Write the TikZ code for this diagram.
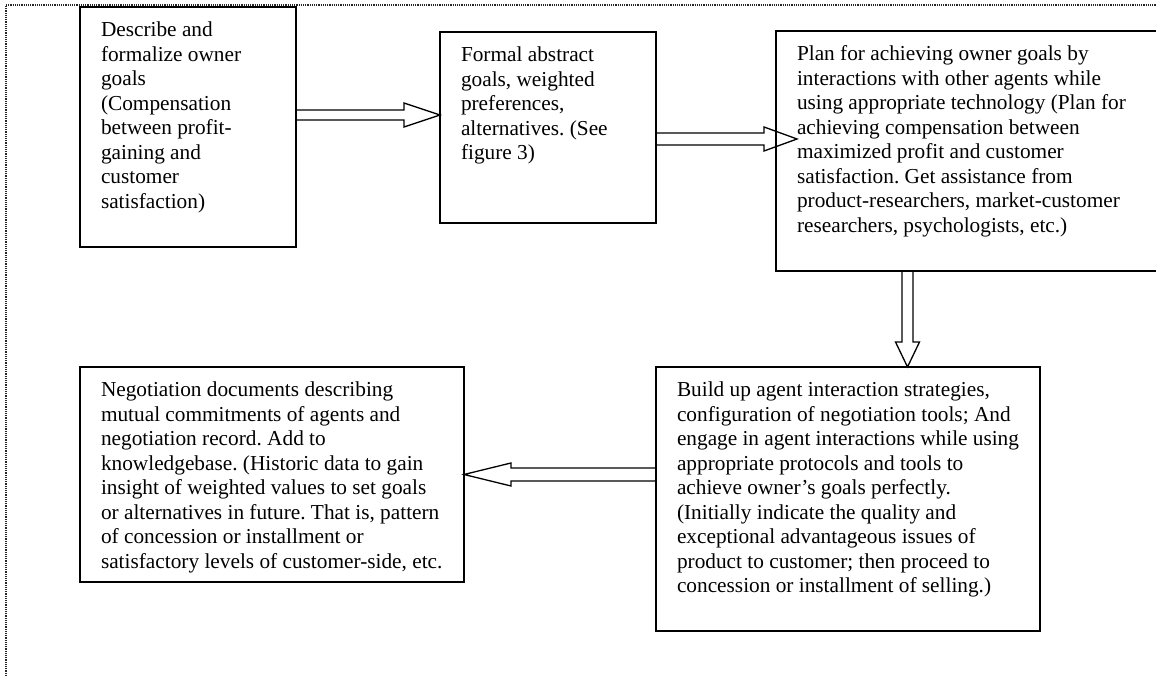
\documentclass[tikz,border=0pt]{standalone}
\usepackage{fontspec}
\setmainfont{Liberation Serif}
\usetikzlibrary{calc}
\frenchspacing
\newcommand{\boxtxt}[3]{\parbox[t][#1][t]{#2}{\raggedright\rule{0pt}{30pt}#3}}

\begin{document}
\begin{tikzpicture}[x=1pt,y=1pt,font=\fontsize{21.3}{24.5}\selectfont]
  \tikzset{stage/.style={draw,line width=1.6pt,anchor=north west,inner xsep=21pt,inner ysep=0pt,outer sep=0pt}}
  \tikzstyle{hollow}=[line width=1.3pt,line join=miter]
  \tikzstyle{frame}=[densely dotted,line width=1.2pt,black!85]

  \useasboundingbox (0,0) rectangle (1156,676);
  \clip (0,0) rectangle (1156,676);

  % page frame
  \draw[frame] (6,0) -- (6,671) -- (1156,671);

  % boxes
  \node[stage] (goals) at (80,669) {\boxtxt{240pt}{174pt}{Describe and\\ formalize owner\\ goals\\ (Compensation\\ between profit-\\ gaining and\\ customer\\ satisfaction)}};
  \node[stage] (formal) at (440,644) {\boxtxt{191pt}{174pt}{Formal abstract\\ goals, weighted\\ preferences,\\ alternatives. (See\\ figure 3)}};
  \node[stage] (plan) at (776,645) {\boxtxt{240pt}{352pt}{Plan for achieving owner goals by\\ interactions with other agents while\\ using appropriate technology (Plan for\\ achieving compensation between\\ maximized profit and customer\\ satisfaction. Get assistance from\\ product-researchers, market-customer\\ researchers, psychologists, etc.)}};
  \node[stage] (interact) at (656,309) {\boxtxt{264pt}{342pt}{Build up agent interaction strategies,\\ configuration of negotiation tools; And\\ engage in agent interactions while using\\ appropriate protocols and tools to\\ achieve owner’s goals perfectly.\\ (Initially indicate the quality and\\ exceptional advantageous issues of\\ product to customer; then proceed to\\ concession or installment of selling.)}};
  \node[stage] (records) at (80,309) {\boxtxt{215pt}{342pt}{Negotiation documents describing\\ mutual commitments of agents and\\ negotiation record. Add to\\ knowledgebase. (Historic data to gain\\ insight of weighted values to set goals\\ or alternatives in future. That is, pattern\\ of concession or installment or\\ satisfactory levels of customer-side, etc.}};

  % block arrows
  \draw[hollow] let \p1=(goals.east),\p2=(formal.west) in
    (\x1,566pt) -- (\x2-36pt,566pt) -- (\x2-36pt,573pt) -- (\x2,561pt)
    -- (\x2-36pt,549pt) -- (\x2-36pt,556pt) -- (\x1,556pt);
  \draw[hollow] let \p1=(formal.east),\p2=(plan.west) in
    (\x1,543pt) -- (\x2-12pt,543pt) -- (\x2-12pt,549pt) -- (\x2+21pt,537pt)
    -- (\x2-12pt,525pt) -- (\x2-12pt,531pt) -- (\x1,531pt);
  \draw[hollow] let \p1=(plan.south),\p2=(interact.north) in
    (902pt,\y1) -- (902pt,\y2+25pt) -- (895.5pt,\y2+25pt) -- (907.5pt,\y2)
    -- (919.5pt,\y2+25pt) -- (913pt,\y2+25pt) -- (913pt,\y1);
  \draw[hollow] let \p1=(interact.west),\p2=(records.east) in
    (\x1,208pt) -- (\x2+47pt,208pt) -- (\x2+47pt,213pt) -- (\x2,201.5pt)
    -- (\x2+47pt,190pt) -- (\x2+47pt,195pt) -- (\x1,195pt);

\end{tikzpicture}
\end{document}
